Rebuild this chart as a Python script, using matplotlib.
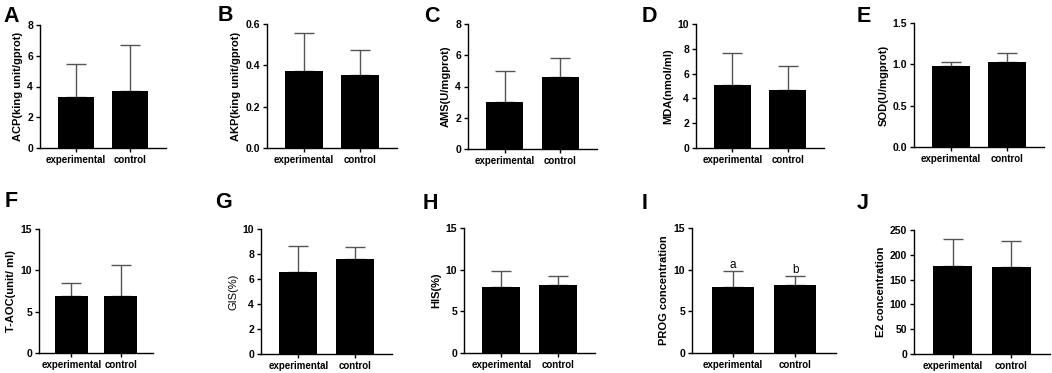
import matplotlib
matplotlib.use("Agg")
import matplotlib.pyplot as plt

plt.rcParams["font.family"] = ["Liberation Sans", "DejaVu Sans"]
plt.rcParams["font.weight"] = "bold"

W, H = 1052, 373

groups = ["experimental", "control"]

panel_letters = ["A", "B", "C", "D", "E", "F", "G", "H", "I", "J"]
ylabels = [
    "ACP(king unit/gprot)", "AKP(king unit/gprot)", "AMS(U/mgprot)",
    "MDA(nmol/ml)", "SOD(U/mgprot)", "T-AOC(unit/ ml)", "GIS(%)",
    "HIS(%)", "PROG concentration", "E2 concentration",
]
means = [
    [3.3, 3.7], [0.375, 0.355], [3.0, 4.6], [5.1, 4.7], [0.98, 1.03],
    [6.9, 6.9], [6.55, 7.6], [7.9, 8.15], [7.9, 8.15], [177, 176],
]
sds = [
    [2.15, 3.0], [0.18, 0.117], [1.97, 1.2], [2.55, 1.95], [0.05, 0.11],
    [1.6, 3.8], [2.1, 1.0], [2.0, 1.15], [1.95, 1.1], [55, 51],
]
yticks = [
    [0, 2, 4, 6, 8], [0.0, 0.2, 0.4, 0.6], [0, 2, 4, 6, 8], [0, 2, 4, 6, 8, 10],
    [0.0, 0.5, 1.0, 1.5], [0, 5, 10, 15], [0, 2, 4, 6, 8, 10], [0, 5, 10, 15],
    [0, 5, 10, 15], [0, 50, 100, 150, 200, 250],
]
tick_fmt = ["{:.0f}", "{:.1f}", "{:.0f}", "{:.0f}", "{:.1f}",
            "{:.0f}", "{:.0f}", "{:.0f}", "{:.0f}", "{:.0f}"]
sig_letters = {8: ["a", "b"]}

# axes boxes in pixels: left, top, right, bottom
boxes = [
    (40, 25, 166, 148), (267, 24, 397, 148), (468, 24, 597, 149),
    (696, 24, 824, 148), (914, 23, 1044, 147),
    (39, 229, 153, 353), (261, 229, 392, 354), (464, 228, 595, 353),
    (692, 228, 836, 353), (914, 230, 1050, 354),
]
letter_pos = [
    (3, 22), (218, 21), (424, 22), (642, 22), (857, 22),
    (5, 207), (215, 208), (423, 209), (642, 209), (857, 209),
]

fig = plt.figure(figsize=(W / 100, H / 100), dpi=100)

for i in range(10):
    l, t, r, b = boxes[i]
    ax = fig.add_axes([l / W, 1 - b / H, (r - l) / W, (b - t) / H])
    x = list(range(len(groups)))
    ax.bar(x, means[i], width=0.67, color="black", zorder=2)
    ax.errorbar(x, means[i], yerr=[[0, 0], sds[i]], fmt="none",
                ecolor="#555555", elinewidth=1.0, capsize=7, capthick=1.0, zorder=1)
    ax.set_xlim(-0.66, 1.66)
    ax.set_ylim(0, yticks[i][-1])
    ax.set_yticks(yticks[i])
    ax.set_yticklabels([tick_fmt[i].format(v) for v in yticks[i]])
    ax.set_xticks(x)
    ax.set_xticklabels(groups)
    ax.tick_params(axis="x", labelsize=7, length=3, width=1, pad=2)
    ax.tick_params(axis="y", labelsize=7.5, length=3, width=1, pad=2)
    for sp in ["top", "right"]:
        ax.spines[sp].set_visible(False)
    for sp in ["left", "bottom"]:
        ax.spines[sp].set_linewidth(1.0)
    weight = "normal" if i == 6 else "bold"
    ax.set_ylabel(ylabels[i], fontsize=8, fontweight=weight, labelpad=3)
    if i in sig_letters:
        for xi, m, s, txt in zip(x, means[i], sds[i], sig_letters[i]):
            ax.text(xi, m + s, txt, ha="center", va="bottom", fontsize=8.5,
                    fontweight="normal")
    lx, ly = letter_pos[i]
    fig.text(lx / W, 1 - ly / H, panel_letters[i], fontsize=15.5,
             fontweight="bold", va="baseline", ha="left")

fig.savefig("out.png", dpi=100)
